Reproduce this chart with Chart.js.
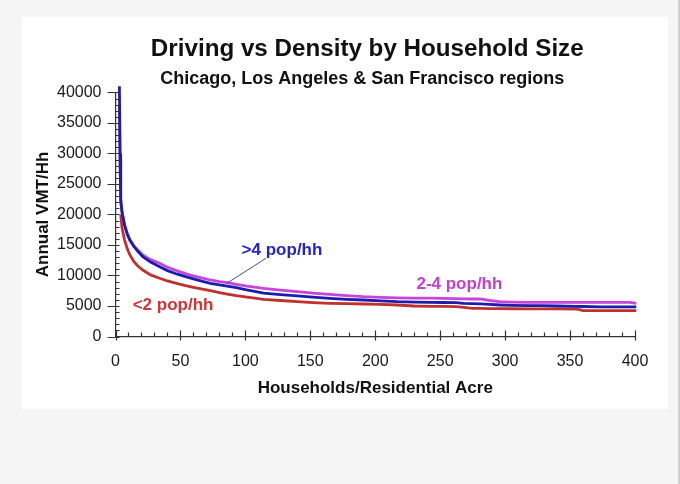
<!DOCTYPE html>
<html><head><meta charset="utf-8">
<script src="https://cdn.jsdelivr.net/npm/chart.js@4.4.1/dist/chart.umd.min.js"></script>
<style>
html,body{margin:0;padding:0;background:#f5f5f5;width:680px;height:484px;overflow:hidden;}
#panel{position:absolute;left:22px;top:17px;width:646px;height:392px;background:#fff;}
#edge{position:absolute;left:678px;top:0;width:2px;height:484px;background:#d0d0d0;}
canvas{display:block;}
</style></head><body>
<div id="panel"><canvas id="c" width="646" height="392"></canvas></div>
<div id="edge"></div>
<script>
const titleText = 'Driving vs Density by Household Size';
const subtitleText = 'Chicago, Los Angeles & San Francisco regions';
const xTitle = 'Households/Residential Acre';
const yTitle = 'Annual VMT/Hh';

const density = [3, 3.5, 4, 5, 7, 9, 11, 14, 17, 21, 27, 34, 40, 47, 54, 60, 67, 73, 80, 86, 93, 100, 114, 127, 140, 152, 165, 178, 191, 204, 217, 230, 242, 252, 262, 268, 275, 281, 288, 296, 305, 319, 327, 340, 355, 360, 373, 385, 396, 401, 405];
// >4 pop/hh
const vmtLarge = [41000, 30000, 22500, 20400, 18200, 16800, 15800, 14800, 14000, 13100, 12200, 11450, 10800, 10250, 9800, 9450, 9050, 8720, 8450, 8250, 8000, 7700, 7100, 6850, 6650, 6450, 6260, 6100, 5980, 5850, 5700, 5620, 5580, 5570, 5560, 5440, 5400, 5350, 5250, 5160, 5100, 5060, 5050, 5000, 4950, 4920, 4860, 4850, 4850, 4850, 4850];
// 2-4 pop/hh
const vmtMid = [38000, 29000, 22000, 20500, 18300, 16900, 15900, 14900, 14200, 13360, 12600, 12000, 11350, 10790, 10300, 9920, 9550, 9260, 9000, 8820, 8560, 8300, 7900, 7600, 7350, 7100, 6910, 6700, 6520, 6420, 6330, 6300, 6280, 6250, 6200, 6180, 6150, 6150, 5900, 5700, 5650, 5600, 5600, 5600, 5600, 5600, 5600, 5600, 5600, 5440, 5440];
// <2 pop/hh
const vmtSmall = [null, null, 20000, 17800, 15800, 14400, 13400, 12300, 11600, 10900, 10100, 9540, 9100, 8720, 8350, 8070, 7750, 7510, 7200, 6950, 6700, 6500, 6100, 5900, 5700, 5550, 5440, 5380, 5330, 5250, 5160, 5000, 4950, 4950, 4900, 4780, 4620, 4600, 4580, 4560, 4550, 4540, 4530, 4520, 4510, 4230, 4230, 4230, 4230, 4230, 4230];

const xTicks = [0, 50, 100, 150, 200, 250, 300, 350, 400];
const yTicks = [0, 5000, 10000, 15000, 20000, 25000, 30000, 35000, 40000];

const seriesNames = ['>4 pop/hh', '2-4 pop/hh', '<2 pop/hh'];
const lineColors = ['#1c1cae', '#c845dc', '#c0302c'];
const textColors = ['#2424cc', '#c23fd6', '#d03434'];
const labelX = [128.2, 264.8, 44.3];
const labelY = [14050, 8574, 5033];
const leaderX = [115.9, 85.7];
const leaderY = [12820, 8721];

const FONT = "'Liberation Sans', Arial, sans-serif";
const pts = arr => density.map((d, i) => ({x: d, y: arr[i]}));

const decor = {
  id: 'decor',
  afterLayout(chart) {
    chart.boxes.forEach(b => {
      if (b.options && b.options.text === titleText) { b.left -= 8; b.right -= 8; }
      if (b.options && b.options.text === subtitleText) { b.left -= 13; b.right -= 13; }
    });
  },
  afterDraw(chart) {
    const {ctx, scales: {x, y}} = chart;
    const ax = x.left, ay = y.bottom;
    ctx.save();
    ctx.strokeStyle = '#333';
    ctx.lineWidth = 1.2;
    ctx.beginPath();
    for (let v = y.min; v <= y.max; v += 1000) {
      const py = Math.round(y.getPixelForValue(v)) + 0.5;
      ctx.moveTo(ax, py); ctx.lineTo(ax + 4, py);
    }
    yTicks.forEach(v => {
      const py = Math.round(y.getPixelForValue(v)) + 0.5;
      ctx.moveTo(ax - 8, py); ctx.lineTo(ax + 4, py);
    });
    for (let v = x.min; v <= x.max; v += 10) {
      const px = Math.round(x.getPixelForValue(v)) + 0.5;
      ctx.moveTo(px, ay); ctx.lineTo(px, ay - 4);
    }
    xTicks.forEach(v => {
      const px = Math.round(x.getPixelForValue(v)) + 0.5;
      ctx.moveTo(px, ay - 6); ctx.lineTo(px, ay + 4);
    });
    ctx.stroke();
    // leader line
    ctx.strokeStyle = '#4a4a80';
    ctx.lineWidth = 1;
    ctx.beginPath();
    ctx.moveTo(x.getPixelForValue(leaderX[0]), y.getPixelForValue(leaderY[0]));
    ctx.lineTo(x.getPixelForValue(leaderX[1]), y.getPixelForValue(leaderY[1]));
    ctx.stroke();
    // series labels
    ctx.font = 'bold 17px ' + FONT;
    ctx.textAlign = 'center';
    ctx.textBaseline = 'middle';
    seriesNames.forEach((t, i) => {
      ctx.fillStyle = textColors[i];
      ctx.fillText(t, x.getPixelForValue(labelX[i]), y.getPixelForValue(labelY[i]));
    });
    ctx.restore();
  }
};

new Chart(document.getElementById('c'), {
  type: 'line',
  data: {
    datasets: [
      {label: seriesNames[0], data: pts(vmtLarge), borderColor: lineColors[0], order: 1},
      {label: seriesNames[1], data: pts(vmtMid), borderColor: lineColors[1], order: 2},
      {label: seriesNames[2], data: pts(vmtSmall), borderColor: lineColors[2], order: 3}
    ]
  },
  options: {
    responsive: false,
    animation: false,
    devicePixelRatio: 1,
    layout: {padding: {left: 0, right: 33, top: 0, bottom: 10}},
    elements: {
      line: {borderWidth: 2.8, tension: 0, fill: false, borderJoinStyle: 'miter'},
      point: {radius: 0, hoverRadius: 0}
    },
    datasets: {line: {clip: false, spanGaps: false}},
    plugins: {
      legend: {display: false},
      tooltip: {enabled: false},
      title: {
        display: true, text: titleText, fullSize: false, color: '#111',
        font: {family: FONT, size: 24.2, weight: 'bold'},
        padding: {top: 18.2, bottom: 4.2}
      },
      subtitle: {
        display: true, text: subtitleText, fullSize: false, color: '#111',
        font: {family: FONT, size: 18, weight: 'bold'},
        padding: {top: 0, bottom: 2.4}
      }
    },
    scales: {
      x: {
        type: 'linear', min: 0, max: 400,
        afterBuildTicks: s => { s.ticks = xTicks.map(v => ({value: v})); },
        afterFit: s => { s.height = 62.5; },
        ticks: {font: {family: FONT, size: 16}, color: '#1a1a1a', padding: 15, maxRotation: 0, autoSkip: false, callback: v => String(v)},
        grid: {display: false, drawTicks: false},
        border: {display: true, color: '#333', width: 1.2},
        title: {display: true, text: xTitle, color: '#111', font: {family: FONT, size: 17, weight: 'bold'}, padding: {top: 0, bottom: 0}}
      },
      y: {
        type: 'linear', min: 0, max: 40000,
        afterBuildTicks: s => { s.ticks = yTicks.map(v => ({value: v})); },
        afterFit: s => { s.width = 93.5; },
        ticks: {font: {family: FONT, size: 16}, color: '#1a1a1a', padding: 14, callback: v => String(v)},
        grid: {display: false, drawTicks: false},
        border: {display: true, color: '#333', width: 1.2},
        title: {display: true, text: yTitle, color: '#111', font: {family: FONT, size: 17, weight: 'bold'}, padding: {top: 11.2, bottom: 0}}
      }
    }
  },
  plugins: [decor]
});
</script>
</body></html>
